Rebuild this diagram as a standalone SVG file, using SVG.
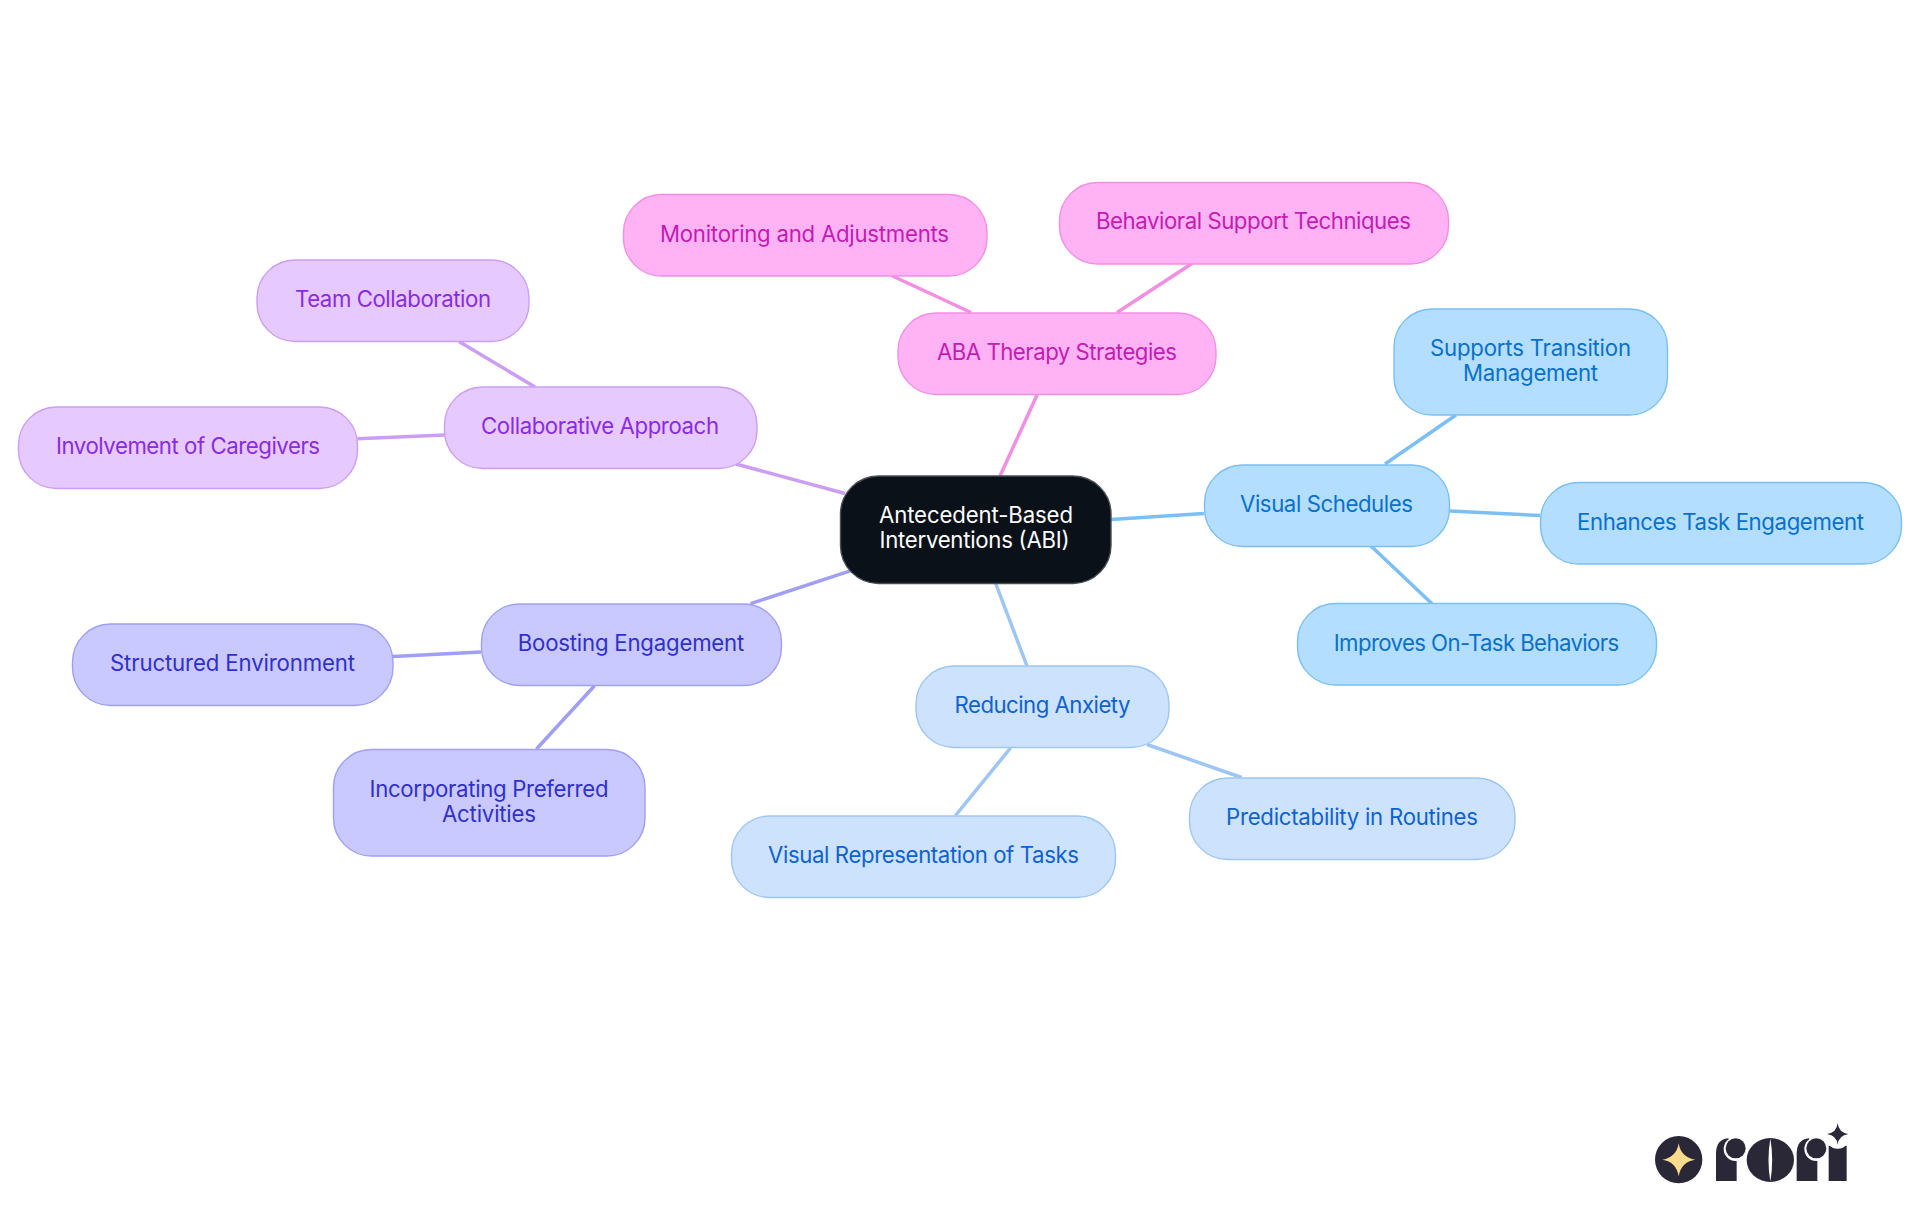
<svg xmlns="http://www.w3.org/2000/svg" width="1920" height="1215" viewBox="0 0 1920 1215">
<style>
text{font-family:"Inter","Noto Sans","Liberation Sans",sans-serif;font-size:22.2px;text-anchor:middle}
.n rect{stroke-width:1.4}
#connectors line{stroke-width:3.5;fill:none}
.root rect{fill:#0b1119;stroke:#4a4e54}.root text{fill:#fff}
.vs rect{fill:#b3deff;stroke:#7abff5}.vs text{fill:#0971c9}
.ra rect{fill:#cce2fd;stroke:#9ec6f2}.ra text{fill:#0f62cf}
.be rect{fill:#c9c9ff;stroke:#a09ef5}.be text{fill:#3030cc}
.ca rect{fill:#e6c9ff;stroke:#cc9ef2}.ca text{fill:#8a2be2}
.ab rect{fill:#ffb3f5;stroke:#f28fe3}.ab text{fill:#c41bb4}
.lv{stroke:#7abff5}.lr{stroke:#9ec6f2}.lb{stroke:#a09ef5}.lc{stroke:#cc9ef2}.la{stroke:#f28fe3}
</style>
<rect width="1920" height="1215" fill="#fff"/>
<g id="connectors">
<line class="la" x1="1037.5" y1="394" x2="1000" y2="476"/>
<line class="la" x1="891.5" y1="275.5" x2="971" y2="312.5"/>
<line class="la" x1="1192" y1="263.5" x2="1117" y2="312.5"/>
<line class="lc" x1="736" y1="464" x2="845" y2="493.5"/>
<line class="lc" x1="459" y1="341.6" x2="535" y2="387"/>
<line class="lc" x1="357.5" y1="438.8" x2="444.5" y2="435"/>
<line class="lb" x1="750.6" y1="603.7" x2="851" y2="570.6"/>
<line class="lb" x1="393" y1="656.5" x2="481" y2="652"/>
<line class="lb" x1="536.5" y1="749" x2="594.5" y2="685.7"/>
<line class="lr" x1="995.5" y1="583" x2="1027" y2="666"/>
<line class="lr" x1="955.5" y1="815.5" x2="1010.5" y2="748"/>
<line class="lr" x1="1147" y1="744.5" x2="1241.6" y2="777.5"/>
<line class="lv" x1="1111" y1="519.5" x2="1204" y2="513.5"/>
<line class="lv" x1="1385" y1="464" x2="1456" y2="415"/>
<line class="lv" x1="1450" y1="511" x2="1540" y2="515.5"/>
<line class="lv" x1="1371" y1="546" x2="1432" y2="603.7"/>
</g>
<g id="root" class="n root"><rect x="840.5" y="476" width="270.5" height="107.5" rx="38"/><text x="976" y="523" textLength="194">Antecedent-Based</text><text x="974.5" y="548" textLength="190">Interventions (ABI)</text></g>
<g id="aba" class="n ab"><rect x="898" y="313" width="318" height="81.5" rx="38"/><text x="1057" y="360" textLength="240">ABA Therapy Strategies</text></g>
<g id="monitoring" class="n ab"><rect x="623.5" y="194.5" width="363.5" height="81.5" rx="38"/><text x="804.5" y="242" textLength="289">Monitoring and Adjustments</text></g>
<g id="behavioral" class="n ab"><rect x="1059.5" y="182.5" width="389" height="81.5" rx="38"/><text x="1253.5" y="229.2" textLength="315">Behavioral Support Techniques</text></g>
<g id="collab" class="n ca"><rect x="444.5" y="387" width="312.5" height="81.5" rx="38"/><text x="600" y="434" textLength="238">Collaborative Approach</text></g>
<g id="team" class="n ca"><rect x="257" y="260" width="272" height="81.5" rx="38"/><text x="393" y="307.2" textLength="196">Team Collaboration</text></g>
<g id="caregivers" class="n ca"><rect x="18.5" y="407" width="339" height="81.5" rx="38"/><text x="188" y="454.2" textLength="264">Involvement of Caregivers</text></g>
<g id="boosting" class="n be"><rect x="481.5" y="604" width="300" height="81.5" rx="38"/><text x="631" y="651" textLength="226.5">Boosting Engagement</text></g>
<g id="structured" class="n be"><rect x="72.5" y="624" width="320.5" height="81.5" rx="38"/><text x="232.5" y="671.2" textLength="245">Structured Environment</text></g>
<g id="preferred" class="n be"><rect x="333.5" y="749.5" width="311.5" height="106.5" rx="38"/><text x="489" y="797" textLength="239">Incorporating Preferred</text><text x="489" y="821.5" textLength="94">Activities</text></g>
<g id="reducing" class="n ra"><rect x="916" y="666" width="253" height="81.5" rx="38"/><text x="1042.5" y="713" textLength="176">Reducing Anxiety</text></g>
<g id="representation" class="n ra"><rect x="731.5" y="816" width="384" height="81.5" rx="38"/><text x="923.5" y="863.2" textLength="311">Visual Representation of Tasks</text></g>
<g id="predictability" class="n ra"><rect x="1189.5" y="778" width="325.5" height="81.5" rx="38"/><text x="1352" y="825.2" textLength="252">Predictability in Routines</text></g>
<g id="schedules" class="n vs"><rect x="1204.5" y="465" width="245" height="81.5" rx="38"/><text x="1326.5" y="512.2" textLength="173">Visual Schedules</text></g>
<g id="transition" class="n vs"><rect x="1394" y="309" width="273.5" height="106" rx="38"/><text x="1530.5" y="356" textLength="201">Supports Transition</text><text x="1530.5" y="381" textLength="135">Management</text></g>
<g id="engagement" class="n vs"><rect x="1540.5" y="482.5" width="361" height="81.5" rx="38"/><text x="1720.5" y="530.2" textLength="287">Enhances Task Engagement</text></g>
<g id="ontask" class="n vs"><rect x="1297.5" y="603.5" width="359" height="81.5" rx="38"/><text x="1476.5" y="651" textLength="285.5">Improves On-Task Behaviors</text></g>
<g id="logo" transform="translate(1600 1090) scale(.33333)">
<circle cx="236" cy="209" r="71" fill="#2a2837"/>
<path d="M236 160Q243 203 286 209Q243 215 236 259Q229 215 187 209Q229 203 236 160Z" fill="#fbdb8c"/>
<path d="M348 273V188Q350 148 385 145L410 190V273Z" fill="#2a2837"/>
<circle cx="407" cy="177" r="36" fill="#fff"/><circle cx="407" cy="175" r="30" fill="#2a2837"/>
<ellipse cx="511" cy="210" rx="71" ry="66" fill="#2a2837"/>
<path d="M511 145Q500 210 511 275Q522 210 511 145Z" fill="#fff"/>
<path d="M590 273V188Q592 148 627 145L652 190V273Z" fill="#2a2837"/>
<circle cx="649" cy="177" r="36" fill="#fff"/><circle cx="649" cy="175" r="30" fill="#2a2837"/>
<path d="M686 167H740V273H686Z" fill="#2a2837"/>
<circle cx="713" cy="140" r="36" fill="#fff"/>
<path d="M713 100Q716 128 745 132Q716 136 713 164Q710 136 681 132Q710 128 713 100Z" fill="#2a2837"/>
</g>
</svg>
